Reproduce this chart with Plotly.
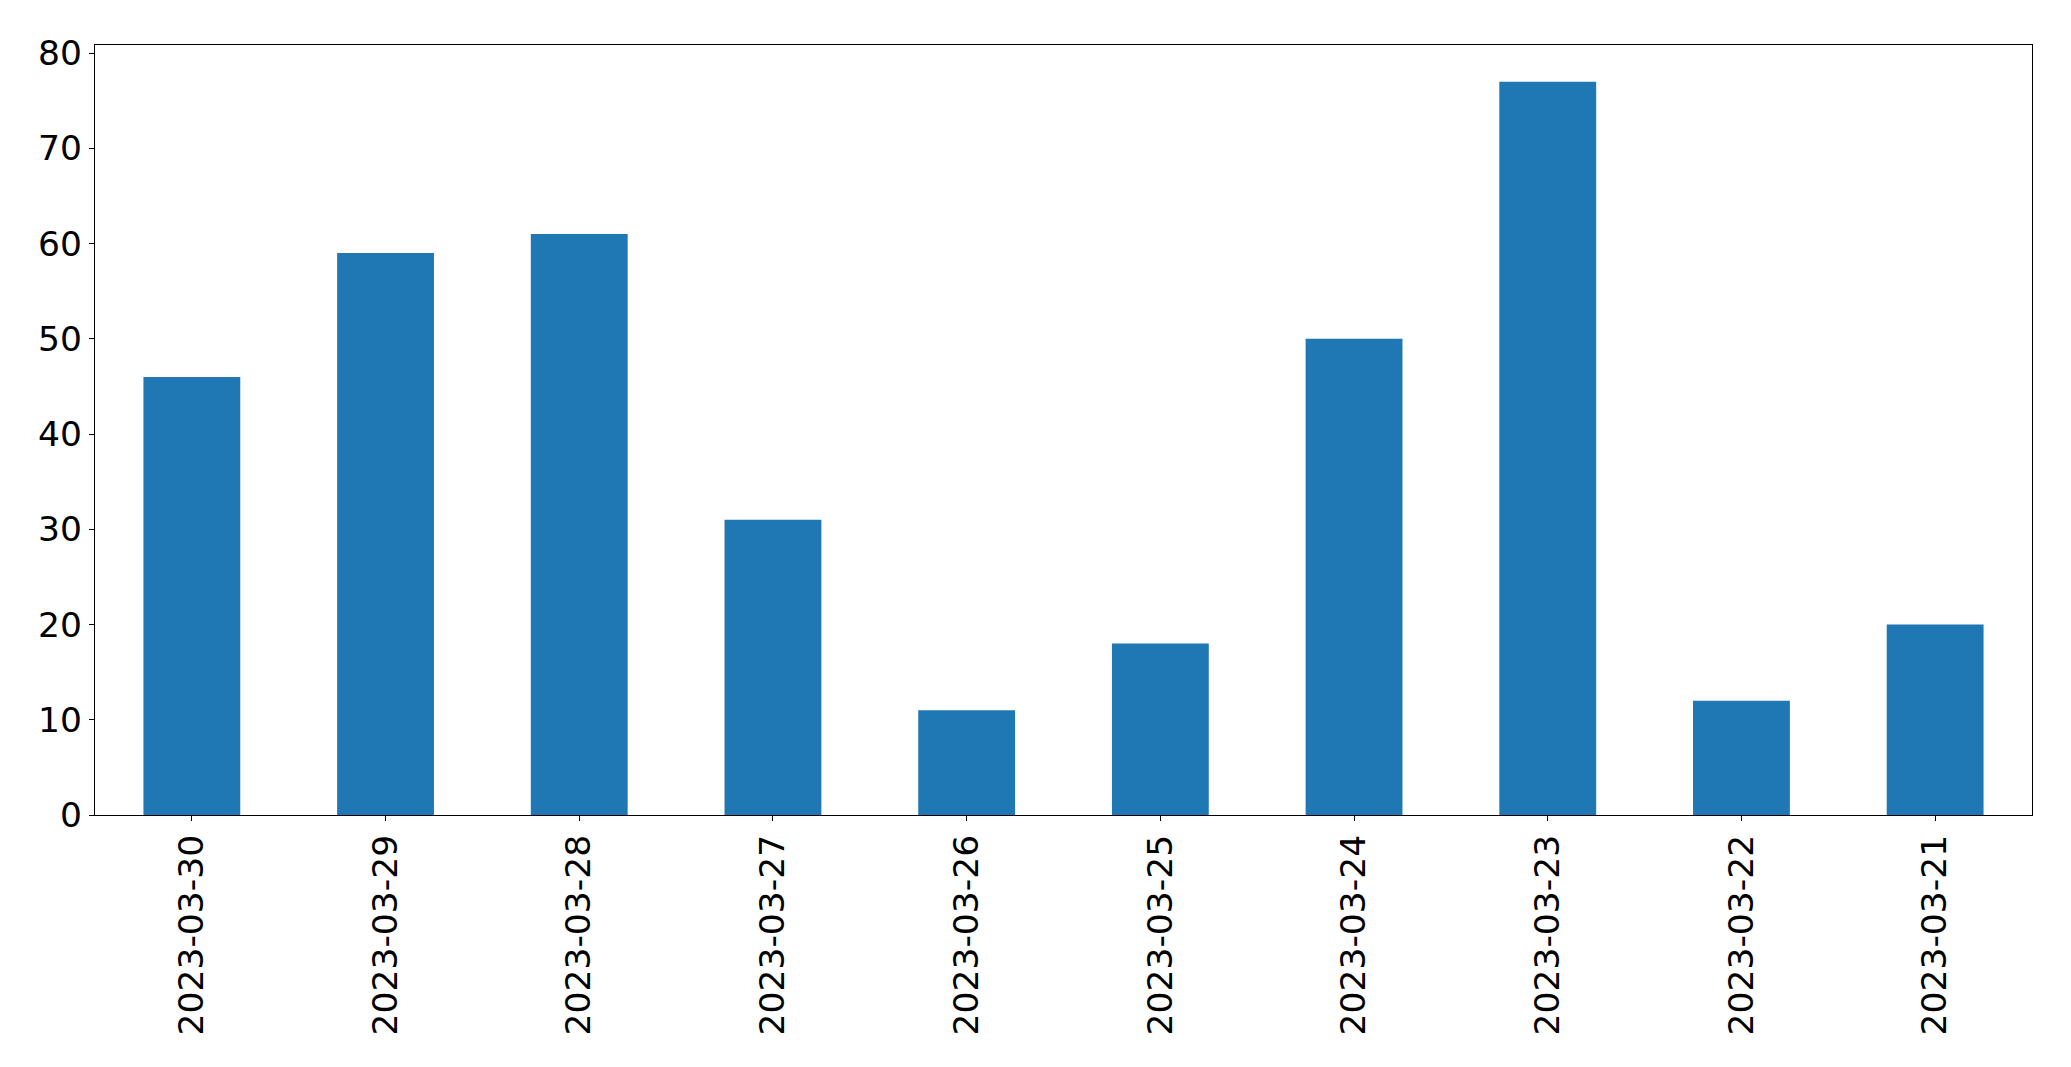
import plotly.graph_objects as go

dates = ["2023-03-30", "2023-03-29", "2023-03-28", "2023-03-27", "2023-03-26",
         "2023-03-25", "2023-03-24", "2023-03-23", "2023-03-22", "2023-03-21"]
counts = [46, 59, 61, 31, 11, 18, 50, 77, 12, 20]
y_ticks = [0, 10, 20, 30, 40, 50, 60, 70, 80]

fig = go.Figure(go.Bar(x=dates, y=counts, marker=dict(color="#1f77b4", line=dict(width=0)), width=0.5))

fig.update_layout(
    width=2071, height=1067,
    margin=dict(l=87, r=47, t=37, b=260),
    plot_bgcolor="white", paper_bgcolor="white",
    font=dict(family="DejaVu Sans", size=34.5, color="black"),
    showlegend=False,
    bargap=0.5,
)
fig.update_xaxes(
    type="category", range=[-0.5, 9.5], tickangle=-90,
    showline=True, linecolor="black", linewidth=1.2, mirror=True,
    ticks="outside", ticklen=5, tickwidth=1.2, tickcolor="black",
    showgrid=False, zeroline=False,
)
fig.update_yaxes(
    range=[0, 80.85], tickvals=y_ticks,
    showline=True, linecolor="black", linewidth=1.2, mirror=True,
    ticks="outside", ticklen=5, tickwidth=1.2, tickcolor="black",
    showgrid=False, zeroline=False,
)
fig.write_html("out.html")
